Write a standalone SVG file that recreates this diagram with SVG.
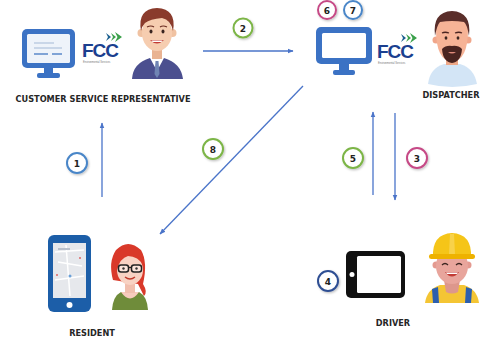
<svg xmlns="http://www.w3.org/2000/svg" width="483" height="341" viewBox="0 0 483 341">
  <style>
    .label { font-family: "DejaVu Sans", Verdana, sans-serif; font-weight: bold; font-size: 8.2px; fill: #262626; text-anchor: middle; }
    .num { font-family: "DejaVu Sans", Verdana, sans-serif; font-weight: bold; font-size: 9px; fill: #222; text-anchor: middle; }
    .step { fill: #fff; stroke-width: 2; filter: url(#shadow); }
    .conn { stroke: #4a74c9; stroke-width: 1.3; fill: none; marker-end: url(#arrow); }
    .fcc { font-family: "Liberation Sans", Arial, sans-serif; font-weight: bold; fill: #1b3f8f; letter-spacing: -1px; }
    .fcc-sub { font-family: "Liberation Sans", Arial, sans-serif; font-size: 2.6px; fill: #777; }
    .chev { fill: #3aa04a; }
  </style>
  <defs>
    <marker id="arrow" viewBox="0 0 10 10" refX="9" refY="5" markerWidth="6" markerHeight="6" orient="auto" markerUnits="userSpaceOnUse">
      <path d="M0,1 L10,5 L0,9 Z" fill="#4a74c9"/>
    </marker>
    <filter id="shadow" x="-30%" y="-30%" width="170%" height="170%">
      <feDropShadow dx="1" dy="1.2" stdDeviation="1" flood-color="#000" flood-opacity="0.25"/>
    </filter>
  </defs>

  <rect width="483" height="341" fill="#fff"/>

  <!-- connectors -->
  <g id="connectors">
    <line class="conn" x1="102" y1="197" x2="102" y2="123"/>
    <line class="conn" x1="203" y1="51" x2="293" y2="51"/>
    <line class="conn" x1="303" y1="86" x2="160" y2="234"/>
    <line class="conn" x1="373" y1="195" x2="373" y2="112"/>
    <line class="conn" x1="395" y1="113" x2="395" y2="200"/>
  </g>

  <!-- step badges -->
  <g id="steps">
    <g id="step1"><circle class="step" cx="77" cy="163" r="10" stroke="#4a86c8"/><text class="num" x="77" y="166.5">1</text></g>
    <g id="step2"><circle class="step" cx="243" cy="28" r="9.5" stroke="#7cb546"/><text class="num" x="243" y="31.5">2</text></g>
    <g id="step3"><circle class="step" cx="417" cy="158" r="10" stroke="#c64a86"/><text class="num" x="417" y="161.5">3</text></g>
    <g id="step4"><circle class="step" cx="328" cy="281" r="10" stroke="#2f4f93"/><text class="num" x="328" y="284.5">4</text></g>
    <g id="step5"><circle class="step" cx="353" cy="158" r="10" stroke="#7cb546"/><text class="num" x="353" y="161.5">5</text></g>
    <g id="step6"><circle class="step" cx="327" cy="10" r="9" stroke="#c64a86"/><text class="num" x="327" y="13.5">6</text></g>
    <g id="step7"><circle class="step" cx="353" cy="10" r="9" stroke="#4a86c8"/><text class="num" x="353" y="13.5">7</text></g>
    <g id="step8"><circle class="step" cx="213" cy="149" r="10" stroke="#7cb546"/><text class="num" x="213" y="152.5">8</text></g>
  </g>

  <!-- customer service representative -->
  <g id="csr">
    <rect x="22" y="29" width="53" height="39" rx="5" fill="#3b72c4"/>
    <rect x="27" y="34" width="43" height="29" rx="1.5" fill="#eef3fa"/>
    <rect x="34" y="42" width="20" height="2" fill="#c9d6e8"/>
    <rect x="34" y="47" width="28" height="2" fill="#c9d6e8"/>
    <rect x="34" y="53" width="14" height="2" fill="#7fa3d6"/>
    <rect x="52" y="53" width="10" height="2" fill="#7fa3d6"/>
    <rect x="44" y="68" width="9" height="6" fill="#3b72c4"/>
    <rect x="37" y="73" width="23" height="5" rx="2" fill="#3b72c4"/>

    <text class="fcc" x="82" y="57" font-size="19">FCC</text>
    <path class="chev" d="M106,33 L111,37 L106,41 L108,37 Z" fill="#1b3f8f" style="fill:#1b5f8f"/>
    <path class="chev" d="M111,33 L116,37 L111,41 L113,37 Z"/>
    <path class="chev" d="M115,32 L122,37 L115,42 L117.5,37 Z"/>
    <text class="fcc-sub" x="83" y="63">Environmental Services</text>

    <path d="M132,79 Q133,63 150,58 L164,58 Q181,63 183,79 Z" fill="#4b4f8f"/>
    <path d="M150,58 L157,71 L164,58 Z" fill="#fff"/>
    <path d="M155.5,61 L158.5,61 L159.5,74 L157,78 L154.5,74 Z" fill="#7084b4"/>
    <rect x="152" y="48" width="10" height="11" fill="#e9b392"/>
    <circle cx="141.5" cy="33" r="4" fill="#f0c2a2"/>
    <circle cx="172.5" cy="33" r="4" fill="#f0c2a2"/>
    <ellipse cx="157" cy="33" rx="15" ry="18" fill="#f6cdb0"/>
    <path d="M141,31 Q137,9 157,8 Q177,9 173,31 Q171,20 162,18 Q150,19 145,23 Q142,26 141,31 Z" fill="#8a3b2c"/>
    <path d="M147,27 Q151,25 154,27" stroke="#6a2b20" stroke-width="1.2" fill="none"/>
    <path d="M160,27 Q163,25 167,27" stroke="#6a2b20" stroke-width="1.2" fill="none"/>
    <ellipse cx="151" cy="31.5" rx="1.5" ry="2" fill="#3a2520"/>
    <ellipse cx="163" cy="31.5" rx="1.5" ry="2" fill="#3a2520"/>
    <path d="M150,40 Q157,47 164,40 Z" fill="#c23b35"/>
    <path d="M151.5,40.5 L162.5,40.5 L161.5,42 L152.5,42 Z" fill="#fff"/>

    <text class="label" x="103" y="102">CUSTOMER SERVICE REPRESENTATIVE</text>
  </g>

  <!-- dispatcher -->
  <g id="dispatcher">
    <rect x="316" y="27" width="56" height="37" rx="5" fill="#3b72c4"/>
    <rect x="322" y="33" width="44" height="25" rx="1.5" fill="#fff"/>
    <rect x="339" y="64" width="10" height="7" fill="#3b72c4"/>
    <rect x="333" y="70" width="22" height="5" rx="2" fill="#3b72c4"/>

    <text class="fcc" x="377" y="58" font-size="19">FCC</text>
    <path class="chev" d="M401,34 L406,38 L401,42 L403,38 Z" style="fill:#1b5f8f"/>
    <path class="chev" d="M406,34 L411,38 L406,42 L408,38 Z"/>
    <path class="chev" d="M410,33 L417,38 L410,43 L412.5,38 Z"/>
    <text class="fcc-sub" x="378" y="64">Environmental Services</text>

    <path d="M428,84 Q430,68 444,64 L460,64 Q474,68 477,84 Q452,90 428,84 Z" fill="#d3e5f6"/>
    <rect x="446" y="54" width="12" height="11" fill="#eea888"/>
    <circle cx="436" cy="40" r="3.5" fill="#f0a68a"/>
    <circle cx="468" cy="40" r="3.5" fill="#f0a68a"/>
    <path d="M436,30 Q436,60 452,62 Q468,60 468,30 Q468,18 452,18 Q436,18 436,30 Z" fill="#f6b396"/>
    <path d="M435,36 Q432,12 452,11 Q472,12 469,36 Q467,24 464,22 Q452,20 440,22 Q437,25 435,36 Z" fill="#5a2e2a"/>
    <path d="M442,33 Q445,31.5 449,33" stroke="#4a2420" stroke-width="1.3" fill="none"/>
    <path d="M455,33 Q459,31.5 462,33" stroke="#4a2420" stroke-width="1.3" fill="none"/>
    <ellipse cx="446" cy="38" rx="1.4" ry="1.8" fill="#3a2520"/>
    <ellipse cx="458" cy="38" rx="1.4" ry="1.8" fill="#3a2520"/>
    <path d="M442,49 Q443,62 452,63 Q461,62 462,49 Q458,45 452,46 Q446,45 442,49 Z" fill="#4a2420"/>
    <path d="M448,52 Q452,55 456,52 Z" fill="#e08a7a"/>
    <text class="label" x="451" y="98">DISPATCHER</text>
  </g>

  <!-- resident -->
  <g id="resident">
    <rect x="48" y="235" width="43" height="77" rx="6" fill="#1c5ea8"/>
    <rect x="53" y="243" width="33" height="55" fill="#e6e8ec"/>
    <path d="M55,252 L84,250 M58,262 L82,266 M66,245 L70,296 M55,280 L84,276" stroke="#fff" stroke-width="1.5" fill="none"/>
    <rect x="58" y="248" width="12" height="2" fill="#b8c0cc"/>
    <circle cx="70" cy="276" r="1.5" fill="#6aa0d8"/>
    <circle cx="57" cy="275" r="1" fill="#d66"/>
    <circle cx="80" cy="258" r="1" fill="#d66"/>
    <circle cx="69.5" cy="305" r="3" fill="#fff"/>

    <path d="M113,280 Q108,262 116,250 Q128,238 141,250 Q148,262 143,284 Q148,292 144,296 Q140,288 138,284 Z" fill="#d9392a"/>
    <path d="M112,310 Q113,296 121,292 L139,292 Q147,296 148,310 Z" fill="#6f8c3a"/>
    <path d="M121,292 Q130,305 139,292 Z" fill="#f7cbbd"/>
    <rect x="125" y="280" width="10" height="13" fill="#f1bfae"/>
    <ellipse cx="130" cy="270" rx="13" ry="15" fill="#f8d2c3"/>
    <path d="M116,268 Q114,248 131,247 Q145,248 144,266 Q138,256 128,256 Q120,258 117,270 Z" fill="#d9392a"/>
    <rect x="118.5" y="265" width="10" height="7" rx="2.5" fill="#fff" fill-opacity="0.4" stroke="#222" stroke-width="1.5"/>
    <rect x="131.5" y="265" width="10" height="7" rx="2.5" fill="#fff" fill-opacity="0.4" stroke="#222" stroke-width="1.5"/>
    <path d="M128.5,267.5 L131.5,267.5" stroke="#222" stroke-width="1.3"/>
    <circle cx="123.5" cy="268.5" r="1.2" fill="#333"/>
    <circle cx="136.5" cy="268.5" r="1.2" fill="#333"/>
    <path d="M125,277 Q130,281 135,277" stroke="#c0392b" stroke-width="1.4" fill="none"/>
    <text class="label" x="92" y="336">RESIDENT</text>
  </g>

  <!-- driver -->
  <g id="driver">
    <rect x="346" y="251" width="59" height="47" rx="5" fill="#111"/>
    <rect x="357" y="256" width="44" height="37" rx="1.5" fill="#fff"/>
    <circle cx="352" cy="274.5" r="2.5" fill="#fff"/>

    <path d="M425,303 Q427,289 440,285 L464,285 Q477,289 479,303 Z" fill="#f4c534"/>
    <path d="M432,289 L438,287 L439,303 L433,303 Z" fill="#2c5fae"/>
    <path d="M466,287 L472,289 L471,303 L465,303 Z" fill="#2c5fae"/>
    <path d="M444,280 L460,280 L458,292 Q452,295 446,292 Z" fill="#dd978c"/>
    <circle cx="436" cy="265" r="3.5" fill="#e49a90"/>
    <circle cx="468" cy="265" r="3.5" fill="#e49a90"/>
    <ellipse cx="452" cy="266" rx="16" ry="18" fill="#e8a59c"/>
    <path d="M433,257 Q432,234 452,233 Q472,234 471,257 Z" fill="#f5c518"/>
    <rect x="429" y="254" width="46" height="5" rx="2.5" fill="#eeb200"/>
    <path d="M450,234 L454,234 L455,254 L449,254 Z" fill="#f8d24a"/>
    <path d="M442,265 Q445,262 448,265" stroke="#3a2520" stroke-width="1.3" fill="none"/>
    <path d="M456,265 Q459,262 462,265" stroke="#3a2520" stroke-width="1.3" fill="none"/>
    <path d="M445,272 Q452,281 459,272 Z" fill="#c23b35"/>
    <path d="M446,272.5 L458,272.5 L457,274 L447,274 Z" fill="#fff"/>
    <text class="label" x="393" y="326">DRIVER</text>
  </g>
</svg>
